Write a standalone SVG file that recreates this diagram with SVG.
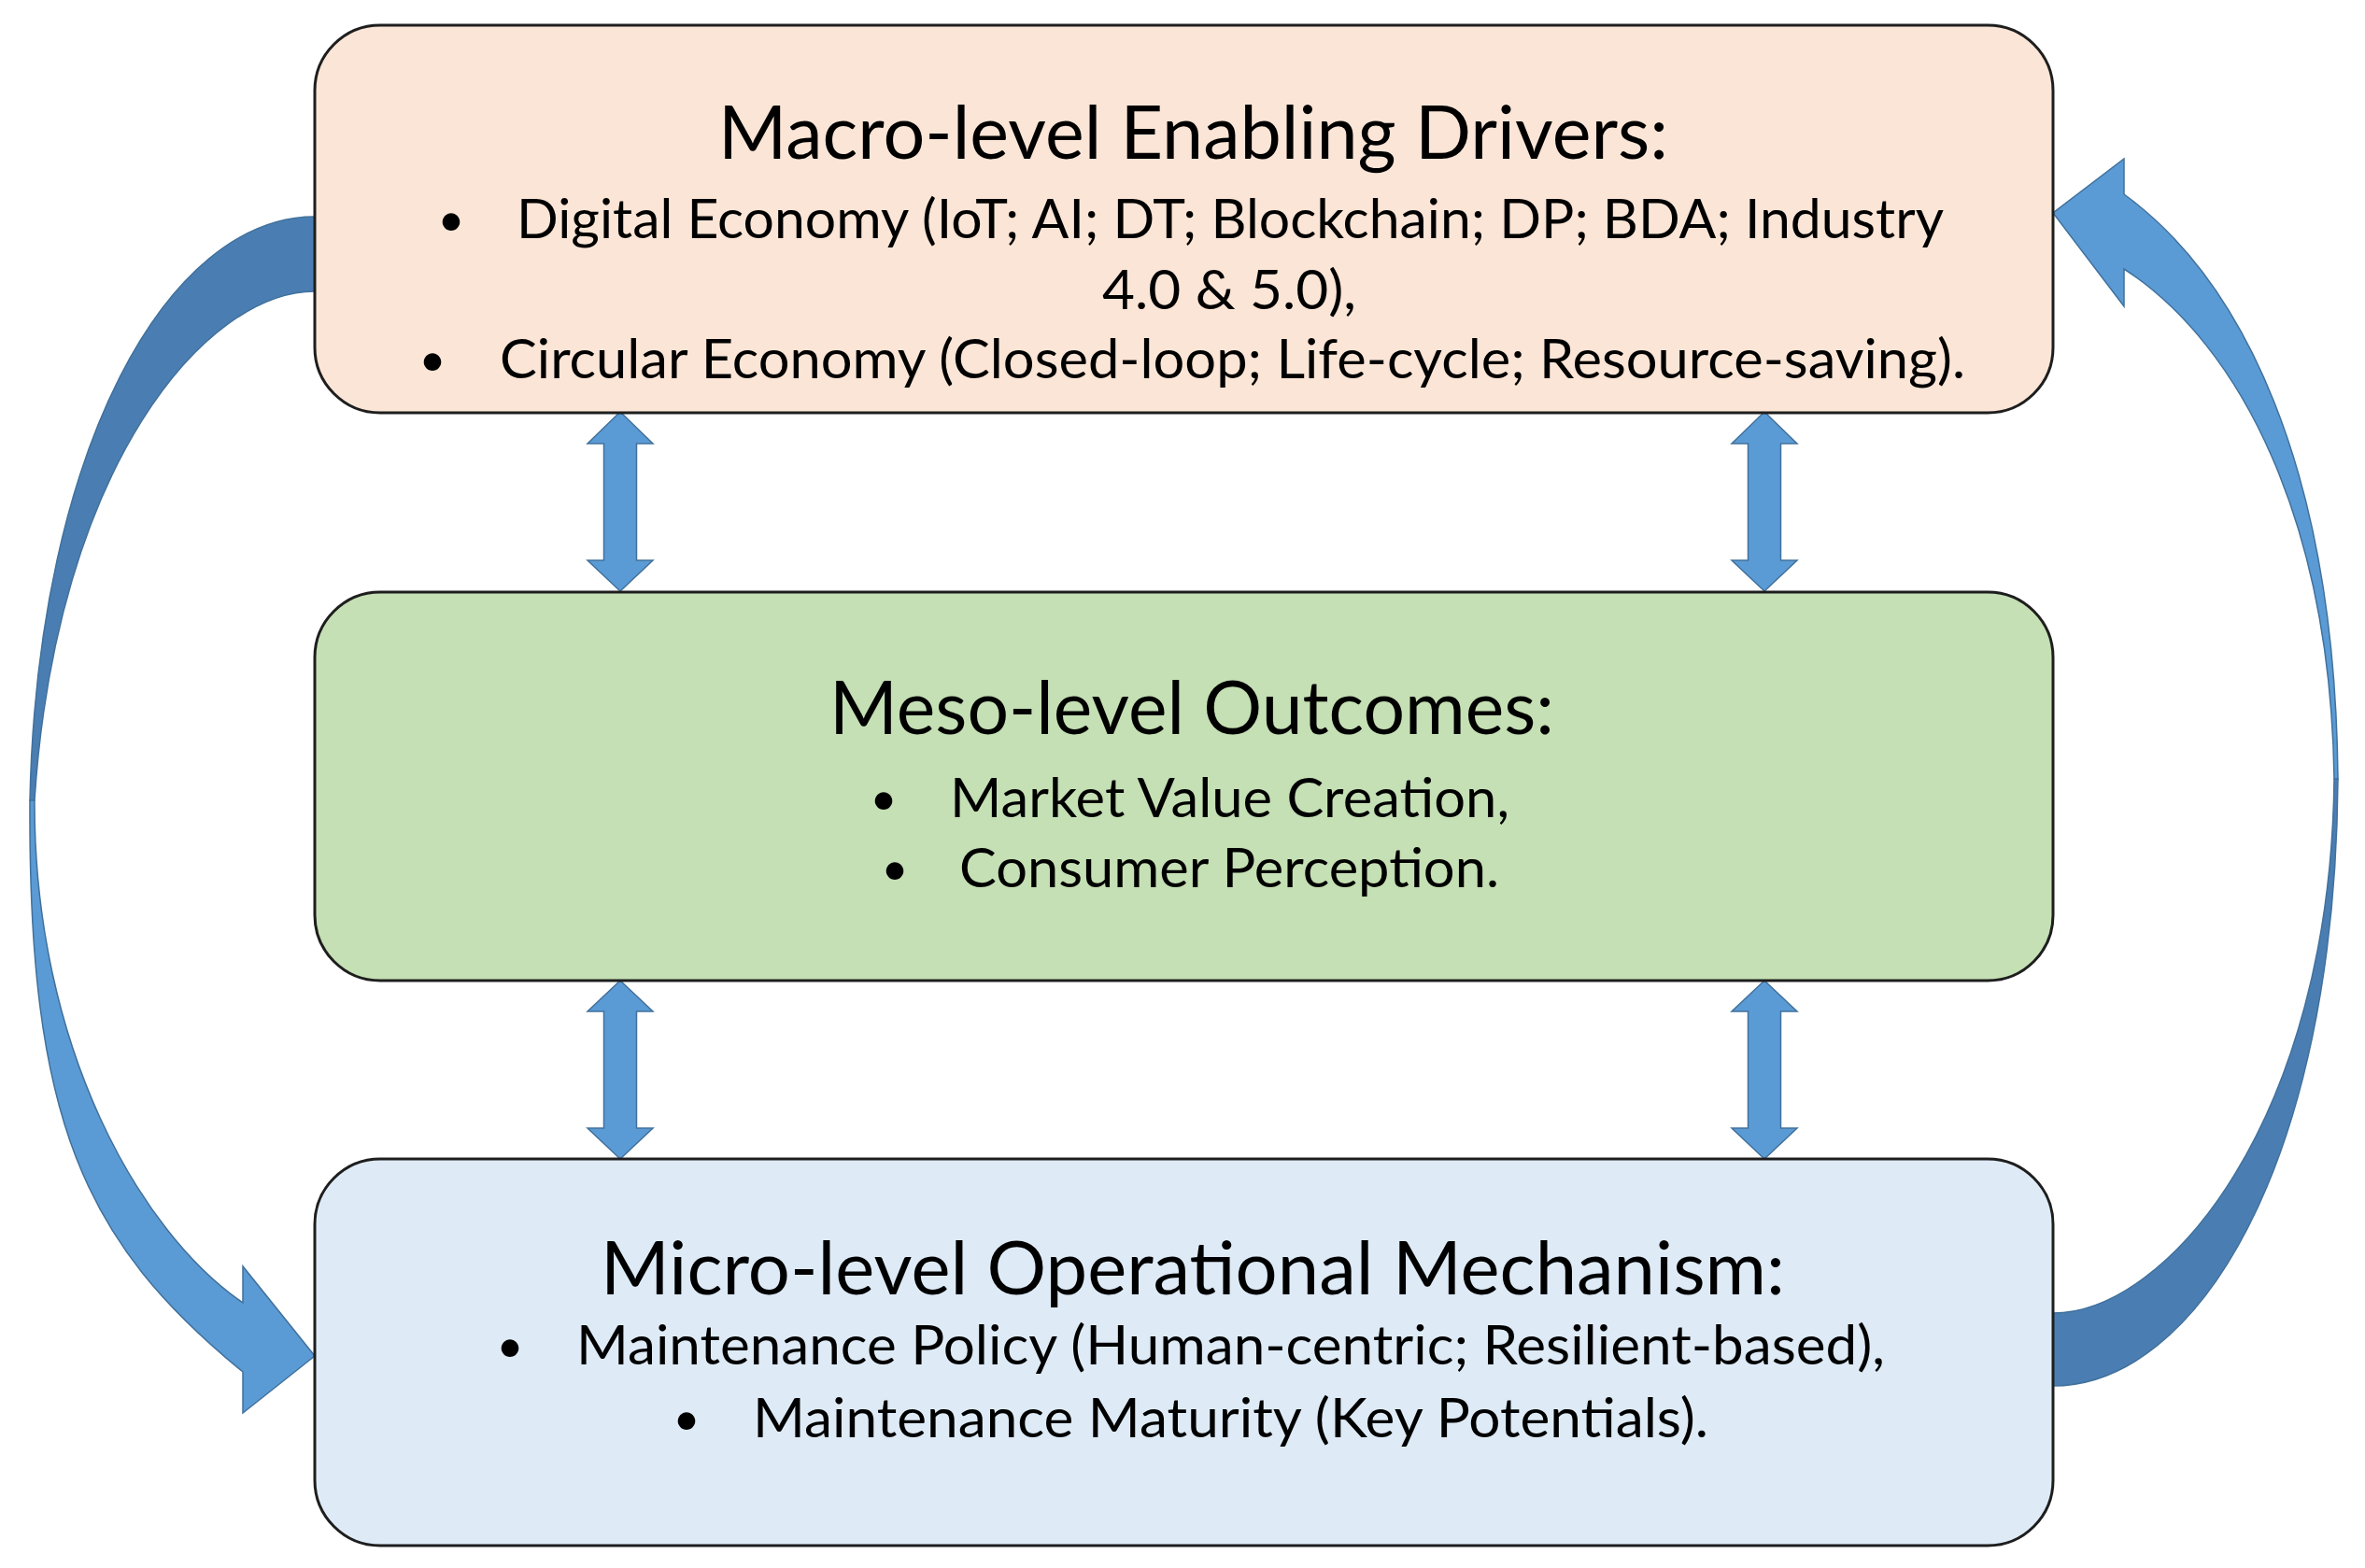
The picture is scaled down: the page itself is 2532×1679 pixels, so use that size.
<svg xmlns="http://www.w3.org/2000/svg" width="2532" height="1679" viewBox="0 0 2532 1679">
<style>
.box{stroke:#1e1e1e;stroke-width:3}
.t{font-family:Lato,"Liberation Sans",sans-serif;fill:#000}
.title{font-size:80px}
.body{font-size:59px}
.bul{font-size:50px}
.arL{fill:#5B9BD5;stroke:#41719C;stroke-width:1.5}
.arD{fill:#4A7EB3;stroke:#41719C;stroke-width:1.5}
</style>
<rect width="2532" height="1679" fill="#fff"/>
<g id="connectors">
  <path class="arD" d="M337,232 C180,232 40,480 32,857 L37,857 C60,500 220,312 337,312 Z"/>
  <path class="arL" d="M32,857 C30,1200 90,1330 260,1469 L260,1513 L337,1452 L260,1356 L260,1395 C150,1320 36,1120 37,857 Z"/>
  <path class="arD" d="M2198,1484 C2350,1484 2500,1250 2503,834 L2499,834 C2495,1200 2320,1406 2198,1406 Z"/>
  <path class="arL" d="M2503,834 C2500,500 2400,300 2274,208 L2274,170 L2198,228 L2274,328 L2274,288 C2400,370 2495,560 2499,834 Z"/>
  <path class="arL" d="M664,441 L699,475 L681.5,475 L681.5,600 L699,600 L664,633 L629,600 L646.5,600 L646.5,475 L629,475 Z"/>
  <path class="arL" d="M1889,441 L1924,475 L1906.5,475 L1906.5,600 L1924,600 L1889,633 L1854,600 L1871.5,600 L1871.5,475 L1854,475 Z"/>
  <path class="arL" d="M664,1050 L699,1083 L681.5,1083 L681.5,1208 L699,1208 L664,1241 L629,1208 L646.5,1208 L646.5,1083 L629,1083 Z"/>
  <path class="arL" d="M1889,1050 L1924,1083 L1906.5,1083 L1906.5,1208 L1924,1208 L1889,1241 L1854,1208 L1871.5,1208 L1871.5,1083 L1854,1083 Z"/>
</g>
<g id="macro">
  <rect class="box" x="337" y="27" width="1861" height="415" rx="70" fill="#FBE5D6"/>
  <text class="t title" x="769" y="170" textLength="1017" lengthAdjust="spacingAndGlyphs">Macro-level Enabling Drivers:</text>
  <text class="t bul" x="483" y="253" text-anchor="middle">•</text>
  <text class="t body" x="553" y="255" textLength="1528" lengthAdjust="spacingAndGlyphs">Digital Economy (IoT; AI; DT; Blockchain; DP; BDA; Industry</text>
  <text class="t body" x="1180" y="331" textLength="272" lengthAdjust="spacingAndGlyphs">4.0 &amp; 5.0),</text>
  <text class="t bul" x="463" y="403" text-anchor="middle">•</text>
  <text class="t body" x="535" y="405" textLength="1569" lengthAdjust="spacingAndGlyphs">Circular Economy (Closed-loop; Life-cycle; Resource-saving).</text>
</g>
<g id="meso">
  <rect class="box" x="337" y="634" width="1861" height="416" rx="70" fill="#C5E0B4"/>
  <text class="t title" x="888" y="786" textLength="776" lengthAdjust="spacingAndGlyphs">Meso-level Outcomes:</text>
  <text class="t bul" x="946" y="873" text-anchor="middle">•</text>
  <text class="t body" x="1017" y="875" textLength="599" lengthAdjust="spacingAndGlyphs">Market Value Creation,</text>
  <text class="t bul" x="958" y="948" text-anchor="middle">•</text>
  <text class="t body" x="1027" y="950" textLength="578" lengthAdjust="spacingAndGlyphs">Consumer Perception.</text>
</g>
<g id="micro">
  <rect class="box" x="337" y="1241" width="1861" height="414" rx="70" fill="#DEEBF7"/>
  <text class="t title" x="643" y="1386" textLength="1268" lengthAdjust="spacingAndGlyphs">Micro-level Operational Mechanism:</text>
  <text class="t bul" x="546" y="1459" text-anchor="middle">•</text>
  <text class="t body" x="617" y="1461" textLength="1401" lengthAdjust="spacingAndGlyphs">Maintenance Policy (Human-centric; Resilient-based),</text>
  <text class="t bul" x="735" y="1537" text-anchor="middle">•</text>
  <text class="t body" x="806" y="1539" textLength="1023" lengthAdjust="spacingAndGlyphs">Maintenance Maturity (Key Potentials).</text>
</g>
</svg>
